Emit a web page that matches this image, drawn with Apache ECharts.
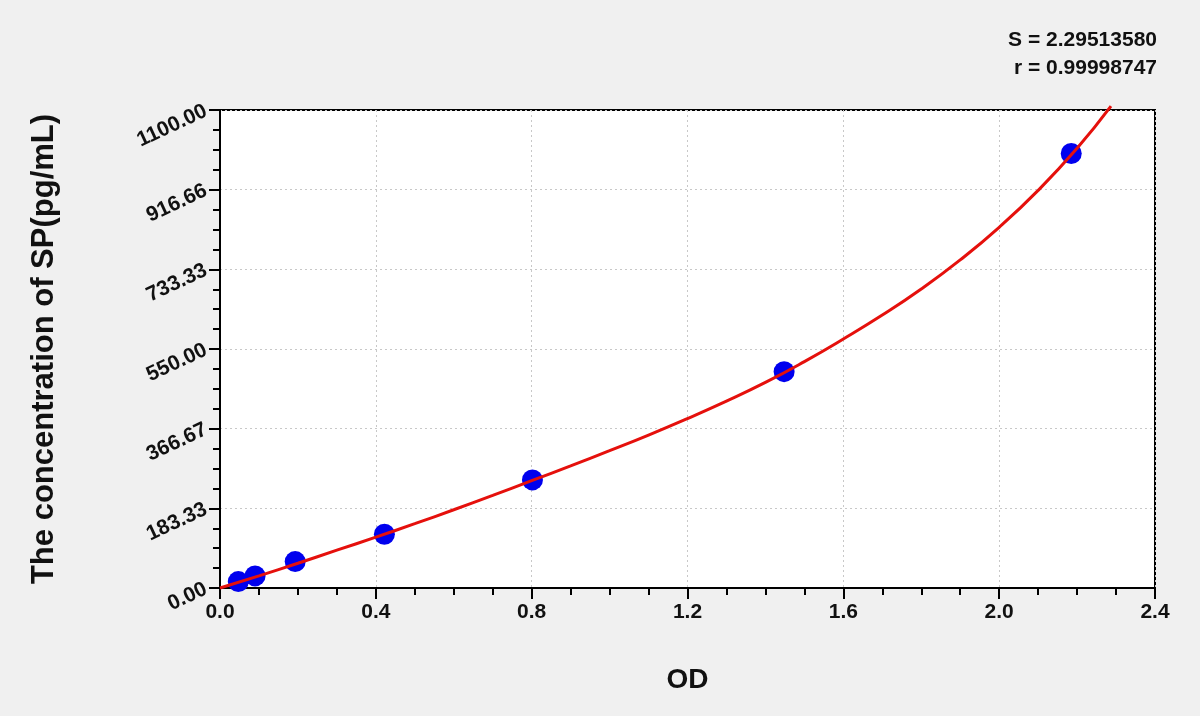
<!DOCTYPE html>
<html><head><meta charset="utf-8">
<script src="https://cdn.jsdelivr.net/npm/echarts@6/dist/echarts.min.js"></script>
<style>html,body{margin:0;padding:0;background:#f0f0f0;}#c{width:1200px;height:716px;}</style>
</head><body><div id="c"></div>
<script>
const pointOD = [0.047, 0.090, 0.193, 0.422, 0.802, 1.448, 2.185];
const pointConc = [14.7, 27.8, 60.7, 123.8, 248.7, 497.8, 1000];
const curveOD = [0, 0.1, 0.2, 0.3, 0.4, 0.5, 0.6, 0.7, 0.8, 0.9, 1.0, 1.1, 1.2, 1.3, 1.4, 1.5, 1.6, 1.7, 1.8, 1.9, 2.0, 2.1, 2.2, 2.287];
const curveConc = [0, 28, 57, 87, 117, 148, 180, 213, 247, 281, 316, 352, 390, 430, 473, 521, 573, 628, 688, 755, 830, 915, 1012, 1109];
const yTickLabels = ['0.00', '183.33', '366.67', '550.00', '733.33', '916.66', '1100.00'];
const xTickLabels = ['0.0', '0.4', '0.8', '1.2', '1.6', '2.0', '2.4'];
const statLines = ['S = 2.29513580', 'r = 0.99998747'];

const FONT = "'Liberation Sans', Arial, sans-serif";
const chart = echarts.init(document.getElementById('c'));
const yStep = 1100 / 6;
chart.setOption({
  backgroundColor: '#f0f0f0',
  animation: false,
  grid: { left: 220, right: 45, top: 110, bottom: 128, show: true, backgroundColor: '#ffffff', borderColor: '#000', borderWidth: 2 },
  xAxis: {
    type: 'value', min: 0, max: 2.4, interval: 0.4,
    name: 'OD', nameLocation: 'middle', nameGap: 78,
    nameTextStyle: { fontFamily: FONT, fontWeight: 'bold', fontSize: 28, color: '#111' },
    axisLine: { show: true, lineStyle: { color: '#000', width: 2 } },
    axisTick: { show: true, length: 11, lineStyle: { color: '#000', width: 2 } },
    minorTick: { show: true, splitNumber: 4, length: 7, lineStyle: { color: '#000', width: 2 } },
    axisLabel: { fontFamily: FONT, fontWeight: 'bold', fontSize: 21, color: '#111', margin: 14,
      formatter: v => xTickLabels[Math.round(v / 0.4)] },
    splitLine: { show: true, lineStyle: { color: '#c8c8c8', type: [2, 3], width: 1 } }
  },
  yAxis: {
    type: 'value', min: 0, max: 1100, interval: yStep,
    name: 'The concentration of SP(pg/mL)', nameLocation: 'middle', nameGap: 160,
    nameTextStyle: { fontFamily: FONT, fontWeight: 'bold', fontSize: 31, color: '#111' },
    axisLine: { show: true, lineStyle: { color: '#000', width: 2 } },
    axisTick: { show: true, length: 11, lineStyle: { color: '#000', width: 2 } },
    minorTick: { show: true, splitNumber: 4, length: 7, lineStyle: { color: '#000', width: 2 } },
    axisLabel: { fontFamily: FONT, fontWeight: 'bold', fontSize: 21, color: '#111', margin: 14, rotate: 25,
      formatter: v => yTickLabels[Math.round(v / yStep)] },
    splitLine: { show: true, lineStyle: { color: '#c8c8c8', type: [2, 3], width: 1 } }
  },
  graphic: statLines.map((t, i) => ({
    type: 'text', right: 43, top: 30 + i * 28,
    style: { text: t, font: "bold 21px " + FONT, fill: '#111', textAlign: 'right' }
  })),
  series: [
    { type: 'line', data: curveOD.map((x, i) => [x, curveConc[i]]), smooth: true, showSymbol: false, clip: false,
      lineStyle: { color: '#e5100c', width: 3 }, z: 3 },
    { type: 'scatter', data: pointOD.map((x, i) => [x, pointConc[i]]), symbolSize: 21,
      itemStyle: { color: '#0000ee', opacity: 1 }, z: 2 }
  ]
});
</script></body></html>
